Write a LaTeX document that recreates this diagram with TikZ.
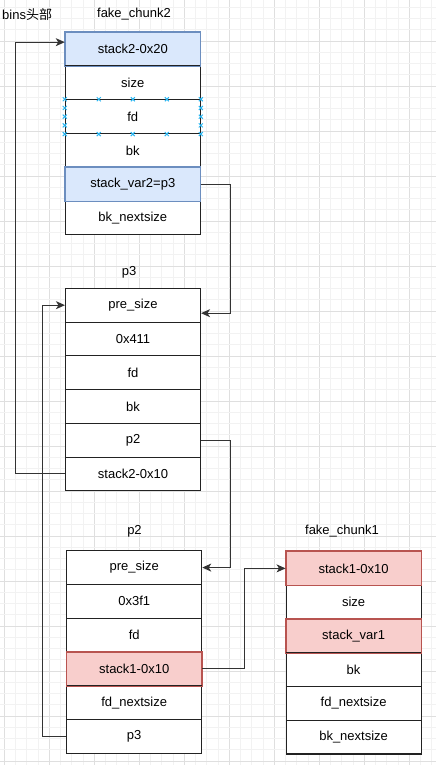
\documentclass[tikz,border=0pt]{standalone}
\usepackage{fontspec}
\setmainfont{Liberation Sans}
\newfontfamily\cjk{Noto Sans CJK SC}
\usetikzlibrary{arrows.meta,calc}
\definecolor{bluefill}{HTML}{DAE8FC}
\definecolor{bluedraw}{HTML}{6C8EBF}
\definecolor{redfill}{HTML}{F8CECC}
\definecolor{reddraw}{HTML}{B85450}
\definecolor{selblue}{RGB}{41,182,242}
\definecolor{edge}{HTML}{222222}
\tikzset{
  cell/.style={draw=edge,fill=white,line width=1.1pt,minimum width=135pt,minimum height=33.75pt,inner sep=0pt,font=\fontsize{13}{15}\selectfont},
  plain/.style={},
  bluec/.style={fill=bluefill,draw=bluedraw},
  redc/.style={fill=redfill,draw=reddraw},
  title/.style={font=\fontsize{13}{15}\selectfont,inner sep=0pt},
  conn/.style={draw=black!80,line width=1.1pt,-{Stealth[length=9pt,width=8pt,inset=2.5pt]}},
  minorgrid/.style={draw=gray!10,line width=0.8pt},
  majorgrid/.style={draw=gray!25,line width=0.8pt},
  selmark/.style={draw=selblue,line width=1pt}
}
\begin{document}
\begin{tikzpicture}[x=1pt,y=-1pt]
\useasboundingbox (0,0) rectangle (436,765);
\fill[white] (0,0) rectangle (436,765);
% grid
\foreach \n in {0,...,38}{
  \pgfmathsetmacro\gx{4.3+11.25*\n}
  \pgfmathtruncatemacro\m{mod(\n,4)}
  \ifnum\m=0 \draw[majorgrid] (\gx,0) -- (\gx,765); \else \draw[minorgrid] (\gx,0) -- (\gx,765); \fi
}
\foreach \n in {1,...,68}{
  \pgfmathsetmacro\gy{-4+11.25*\n}
  \pgfmathtruncatemacro\m{mod(\n,4)}
  \ifnum\m=0 \draw[majorgrid] (0,\gy) -- (436,\gy); \else \draw[minorgrid] (0,\gy) -- (436,\gy); \fi
}
% columns
\foreach [count=\i] \s/\t in {bluec/stack2-0x20,plain/size,plain/fd,plain/bk,bluec/stack\_var2=p3,plain/bk\_nextsize}
  \node[cell,\s] (f2r\i) at (132.8,{32.3+\i*33.75-16.875}) {\t};
\foreach [count=\i] \s/\t in {plain/pre\_size,plain/0x411,plain/fd,plain/bk,plain/p2,plain/stack2-0x10}
  \node[cell,\s] (p3r\i) at (133.0,{288.3+\i*33.75-16.875}) {\t};
\foreach [count=\i] \s/\t in {plain/pre\_size,plain/0x3f1,plain/fd,redc/stack1-0x10,plain/fd\_nextsize,plain/p3}
  \node[cell,\s] (p2r\i) at (134.2,{550.7+\i*33.75-16.875}) {\t};
\foreach [count=\i] \s/\t in {redc/stack1-0x10,plain/size,redc/stack\_var1,plain/bk,plain/fd\_nextsize,plain/bk\_nextsize}
  \node[cell,\s] (f1r\i) at (353.6,{551.5+\i*33.75-16.875}) {\t};
% redraw borders of colored cells on top
\foreach \n in {f2r1,f2r5}
  \draw[bluedraw,line width=1.1pt] (\n.north west) rectangle (\n.south east);
\foreach \n in {p2r4,f1r1,f1r3}
  \draw[reddraw,line width=1.1pt] (\n.north west) rectangle (\n.south east);
% titles
\node[title,anchor=west] (bins) at (2,15) {bins{\cjk 头部}};
\node[title] (t1) at (134,14.5) {fake\_chunk2};
\node[title] (t2) at (129,272.5) {p3};
\node[title] (t3) at (134.5,531.5) {p2};
\node[title] (t4) at (342,531.5) {fake\_chunk1};
% connectors
\draw[conn] (p3r6.west) -- ++(-49.7,0) |- ([yshift=7pt]f2r1.west);
\draw[conn] (f2r5.east) -- ++(29.7,0) |- ([yshift=-8pt]p3r1.east);
\draw[conn] (p3r5.east) -- ++(29.7,0) |- (p2r1.east);
\draw[conn] (p2r6.west) -- ++(-23.7,0) |- (p3r1.west);
\draw[conn] (p2r4.east) -- ++(42.3,0) |- (f1r1.west);
% selection handles
\foreach \t in {0,0.25,0.5,0.75,1}{
  \draw[selmark] ($(f2r3.north west)!\t!(f2r3.north east)$) +(-2,-2) -- +(2,2) +(-2,2) -- +(2,-2);
  \draw[selmark] ($(f2r3.south west)!\t!(f2r3.south east)$) +(-2,-2) -- +(2,2) +(-2,2) -- +(2,-2);
}
\foreach \t in {0.25,0.5,0.75}{
  \draw[selmark] ($(f2r3.north west)!\t!(f2r3.south west)$) +(-2,-2) -- +(2,2) +(-2,2) -- +(2,-2);
  \draw[selmark] ($(f2r3.north east)!\t!(f2r3.south east)$) +(-2,-2) -- +(2,2) +(-2,2) -- +(2,-2);
}
\end{tikzpicture}
\end{document}
